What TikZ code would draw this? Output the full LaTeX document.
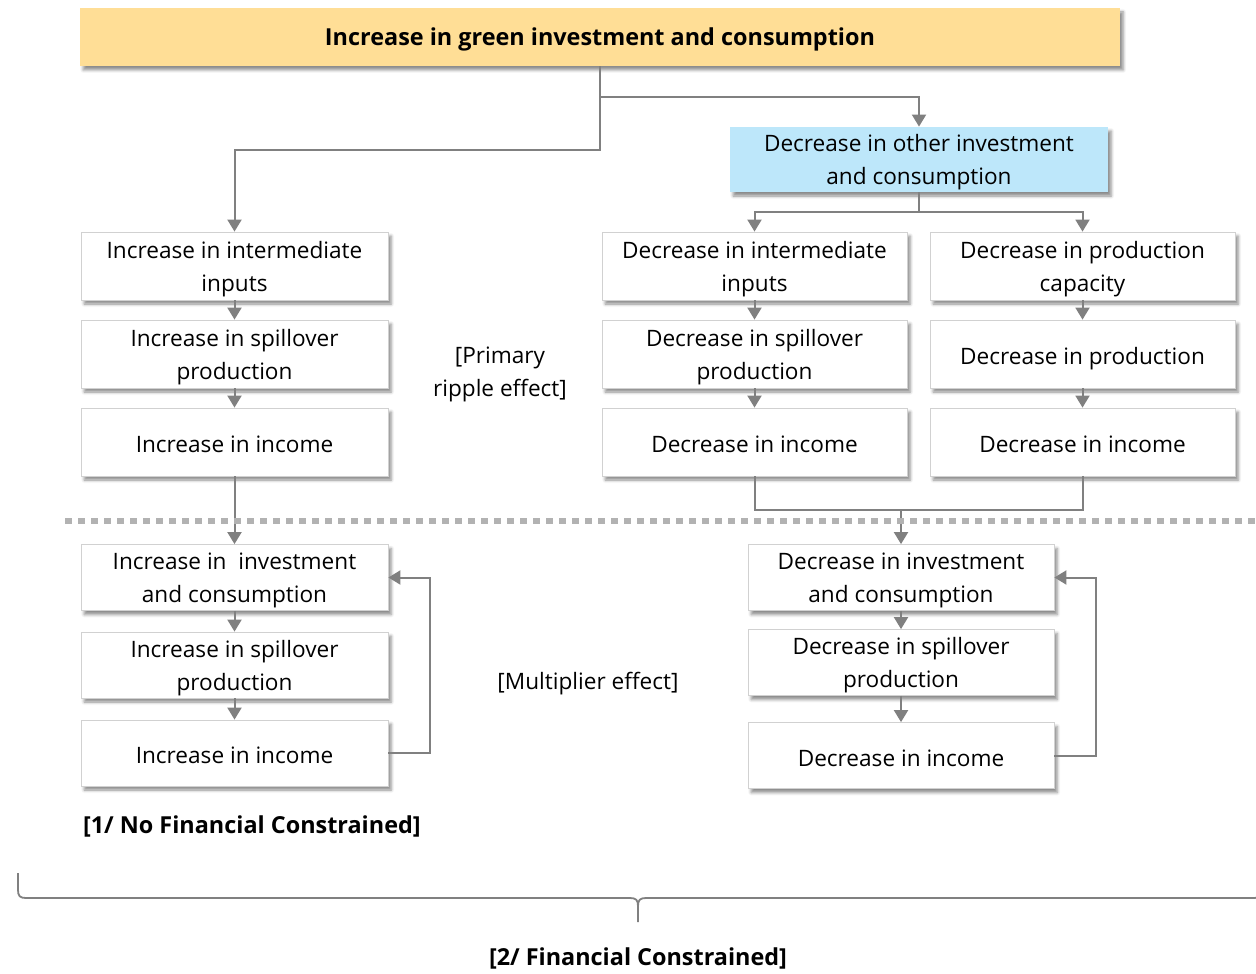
\documentclass[tikz,border=0pt]{standalone}
\usepackage{fontspec}
\setmainfont{Open Sans}
\usepackage{tikz}
\usetikzlibrary{arrows.meta, calc, shadows, shadows.blur}

\definecolor{greenfill}{RGB}{255,222,150}
\definecolor{otherfill}{RGB}{189,231,250}
\definecolor{linegray}{RGB}{128,128,128}

\tikzset{
    box/.style={draw=black!18, fill=white, align=center, inner sep=1pt,
        minimum width=153.5pt, minimum height=34pt,
        font=\fontsize{11.3}{16.5}\selectfont, text depth=0pt,
        execute at begin node={\rule{0pt}{10.6pt}},
        blur shadow={shadow xshift=1.6pt, shadow yshift=-2pt, shadow blur steps=5,
            shadow blur radius=1.5pt, shadow opacity=45}},
    arr/.style={draw=linegray, line width=1pt, -{Triangle[width=7pt, length=6pt]}},
    line/.style={draw=linegray, line width=1pt},
    note/.style={align=center, font=\fontsize{11.3}{16.5}\selectfont},
    heading/.style={font=\bfseries\fontsize{11.7}{14}\selectfont},
}

\begin{document}
\begin{tikzpicture}[x=0.5pt, y=-0.5pt]
    \useasboundingbox (0,0) rectangle (1256,973);

    % top level
    \node[box, fill=greenfill, draw=none, minimum width=520pt, minimum height=29pt,
        font=\bfseries\fontsize{11.7}{14}\selectfont, text depth=2pt, execute at begin node={}] (green) at (600,37)
        {Increase in green investment and consumption};
    \node[box, fill=otherfill, draw=none, minimum width=189pt, minimum height=32.5pt] (other) at (919,159.5)
        {Decrease in other investment\\and consumption};

    % primary ripple effect
    \node[box] (incInter)  at (234.5,266) {Increase in intermediate\\inputs};
    \node[box] (incSpill)  at (234.5,354) {Increase in spillover\\production};
    \node[box] (incIncome) at (234.5,442) {Increase in income};

    \node[box, minimum width=152.5pt] (decInter)  at (754.5,266) {Decrease in intermediate\\inputs};
    \node[box, minimum width=152.5pt] (decSpill)  at (754.5,354) {Decrease in spillover\\production};
    \node[box, minimum width=152.5pt] (decIncome) at (754.5,442) {Decrease in income};

    \node[box, minimum width=152.5pt] (decCap)     at (1082.5,266) {Decrease in production\\capacity};
    \node[box, minimum width=152.5pt] (decProd)    at (1082.5,354) {Decrease in production};
    \node[box, minimum width=152.5pt] (decIncomeB) at (1082.5,442) {Decrease in income};

    \node[note] (primary) at (500,374) {[Primary\\ripple effect]};

    % multiplier effect
    \node[box, minimum height=33pt] (incInv)     at (234.5,577.5) {Increase in~~investment\\and consumption};
    \node[box, minimum height=33pt] (incSpillB)  at (234.5,665) {Increase in spillover\\production};
    \node[box, minimum height=33pt] (incIncomeB) at (234.5,753) {Increase in income};

    \node[box, minimum width=153pt, minimum height=33pt] (decInv)     at (901,577.5) {Decrease in investment\\and consumption};
    \node[box, minimum width=153pt, minimum height=33pt] (decSpillB)  at (901,662.5) {Decrease in spillover\\production};
    \node[box, minimum width=153pt, minimum height=33pt] (decIncomeC) at (901,755.5) {Decrease in income};

    \node[note] (multiplier) at (588,684) {[Multiplier effect]};

    % connectors
    \coordinate (split) at ($(green.south)+(0,31)$);
    \draw[arr] (green.south) -- ++(0,84) -| (incInter.north);
    \draw[arr] (split) -| (other.north);
    \draw[arr] (other.south) -- ++(0,20) -| (decInter.north);
    \draw[arr] (other.south) -- ++(0,20) -| (decCap.north);

    \draw[arr] (incInter) -- (incSpill);
    \draw[arr] (incSpill) -- (incIncome);
    \draw[arr] (decInter) -- (decSpill);
    \draw[arr] (decSpill) -- (decIncome);
    \draw[arr] (decCap) -- (decProd);
    \draw[arr] (decProd) -- (decIncomeB);

    \draw[arr] (incIncome) -- (incInv);
    \coordinate (merge) at ($(decIncome.south)+(0,34)$);
    \draw[line] (decIncome.south) -- (merge) -| (decIncomeB.south);
    \draw[arr] (merge -| decInv.north) -- (decInv.north);

    \draw[arr] (incInv) -- (incSpillB);
    \draw[arr] (incSpillB) -- (incIncomeB);
    \draw[arr] (incIncomeB.east) -- ++(42,0) |- (incInv.east);
    \draw[arr] (decInv) -- (decSpillB);
    \draw[arr] (decSpillB) -- (decIncomeC);
    \draw[arr] (decIncomeC.east) -- ++(42,0) |- (decInv.east);

    % separator
    \draw[black!30, line width=3pt, dash pattern=on 3.5pt off 3pt] (65,521) -- (1256,521);

    % constraints
    \node[heading, anchor=west] (noFin) at (76,826) {[1/ No Financial Constrained]};
    \coordinate (braceL) at (18,873);
    \coordinate (braceTip) at (638,922);
    \coordinate (braceR) at (1262,873);
    \draw[black!50, line width=0.9pt]
        (braceL) -- ++(0,17) .. controls +(0,6) and +(-6,0) .. (26,898)
        -- (630,898) .. controls (636,898) and (638,900) .. (638,906) -- (braceTip)
        (638,906) .. controls (638,900) and (640,898) .. (646,898)
        -- (1254,898) .. controls +(6,0) and +(0,6) .. (1262,890) -- (braceR);
    \node[heading] (fin) at (638,958) {[2/ Financial Constrained]};
\end{tikzpicture}
\end{document}
